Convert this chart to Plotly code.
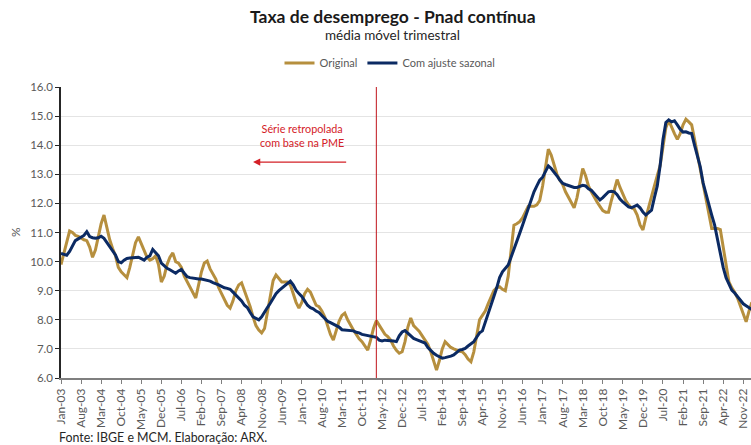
import plotly.graph_objects as go

MONTHS = ["Jan", "Feb", "Mar", "Apr", "May", "Jun", "Jul", "Aug", "Sep", "Oct", "Nov", "Dec"]
months = [f"{m}-{y % 100:02d}" for y in range(2003, 2024) for m in MONTHS][:242]

original = [
    9.9, 10.3, 10.75, 11.05, 11.0, 10.9, 10.87, 10.8, 10.75, 10.72, 10.5, 10.15,
    10.4, 10.85, 11.3, 11.6, 11.15, 10.75, 10.45, 10.2, 9.8, 9.65, 9.55, 9.45,
    9.8, 10.25, 10.65, 10.85, 10.6, 10.35, 10.15, 10.05, 10.1, 10.2, 9.9, 9.3,
    9.5, 9.9, 10.15, 10.3, 10.0, 9.95, 9.8, 9.5, 9.3, 9.15, 8.95, 8.75,
    9.2, 9.65, 9.95, 10.02, 9.75, 9.55, 9.4, 9.1, 8.9, 8.7, 8.5, 8.4,
    8.65, 9.0, 9.2, 9.27, 9.0, 8.75, 8.45, 8.1, 7.8, 7.65, 7.55, 7.7,
    8.3, 8.85, 9.35, 9.54, 9.4, 9.3, 9.3, 9.3, 9.2, 8.9, 8.6, 8.4,
    8.6, 8.9, 9.05, 8.95, 8.7, 8.5, 8.45, 8.3, 8.1, 7.8, 7.5, 7.3,
    7.6, 7.95, 8.15, 8.23, 8.0, 7.8, 7.65, 7.5, 7.35, 7.25, 7.1, 6.96,
    7.3, 7.7, 7.97, 7.8, 7.65, 7.5, 7.42, 7.3, 7.1, 6.95, 6.85, 6.9,
    7.25, 7.75, 8.06, 7.8, 7.7, 7.6, 7.45, 7.3, 7.15, 6.9, 6.6, 6.27,
    6.6, 7.0, 7.25, 7.15, 7.05, 7.0, 6.95, 6.92, 6.9, 6.8, 6.65, 6.56,
    6.9, 7.5, 8.0, 8.15, 8.3, 8.55, 8.8, 9.0, 9.1, 9.14, 9.05, 9.0,
    9.5, 10.4, 11.25, 11.3, 11.37, 11.5, 11.7, 11.9, 11.9, 11.9, 11.95, 12.1,
    12.6, 13.2, 13.86, 13.66, 13.3, 13.0, 12.8, 12.65, 12.4, 12.2, 12.0, 11.85,
    12.2, 12.7, 13.2, 12.95, 12.6, 12.4, 12.2, 12.05, 11.9, 11.75, 11.7, 11.7,
    12.1, 12.5, 12.82, 12.55, 12.3, 12.1, 11.95, 11.85, 11.8, 11.6, 11.26, 11.09,
    11.5, 11.9, 12.2, 12.6, 12.95, 13.3, 13.95, 14.6, 14.85, 14.6, 14.4, 14.2,
    14.4, 14.7, 14.89, 14.8, 14.7, 14.2, 13.7, 13.1, 12.6, 12.2, 11.65, 11.14,
    11.14, 11.14, 11.1, 10.5, 9.8, 9.3, 9.1, 8.95, 8.75, 8.5, 8.22, 7.93,
    8.3, 8.6,
]

sazonal = [
    10.28, 10.25, 10.22, 10.35, 10.55, 10.72, 10.78, 10.85, 10.9, 11.03, 10.86, 10.82,
    10.8, 10.82, 10.87, 10.8, 10.65, 10.51, 10.35, 10.23, 10.0, 9.96, 10.05, 10.11,
    10.12, 10.13, 10.14, 10.15, 10.1, 10.05, 10.15, 10.2, 10.42, 10.3, 10.2, 9.95,
    9.85, 9.77, 9.72, 9.65, 9.6, 9.68, 9.73, 9.6, 9.48, 9.45, 9.43, 9.42,
    9.4, 9.4, 9.38, 9.37, 9.33, 9.28, 9.25, 9.2, 9.15, 9.1, 9.08, 9.05,
    8.95, 8.85, 8.75, 8.65, 8.5, 8.42, 8.25, 8.1, 8.05, 8.0, 8.1, 8.28,
    8.42, 8.57, 8.75, 8.9, 9.0, 9.08, 9.14, 9.22, 9.33, 9.2, 9.02, 8.9,
    8.8, 8.65, 8.5, 8.42, 8.38, 8.3, 8.25, 8.15, 8.05, 7.95, 7.9, 7.85,
    7.82, 7.75, 7.66, 7.65, 7.64, 7.64, 7.62, 7.57, 7.55, 7.5, 7.48, 7.45,
    7.45, 7.42, 7.4, 7.3, 7.27, 7.3, 7.3, 7.28, 7.27, 7.25, 7.45, 7.58,
    7.63, 7.55, 7.45, 7.36, 7.32, 7.28, 7.25, 7.2, 7.05, 6.93, 6.85, 6.78,
    6.72, 6.68, 6.7, 6.72, 6.75, 6.79, 6.88, 6.96, 6.98, 7.02, 7.1, 7.19,
    7.25, 7.4, 7.55, 7.62, 7.9, 8.2, 8.45, 8.8, 9.1, 9.45, 9.65, 9.75,
    9.88, 10.15, 10.45, 10.74, 10.97, 11.25, 11.55, 11.8, 12.15, 12.4, 12.6, 12.8,
    12.9, 13.1, 13.29, 13.2, 13.09, 12.95, 12.8, 12.69, 12.65, 12.62, 12.6, 12.55,
    12.55, 12.58, 12.62, 12.6, 12.5, 12.45, 12.35, 12.25, 12.12, 12.2, 12.3, 12.4,
    12.42, 12.4, 12.3, 12.15, 12.05, 11.95, 11.88, 11.85, 11.9, 11.94, 11.85, 11.7,
    11.6, 11.68, 11.77, 12.2, 12.6, 13.3, 14.2, 14.78, 14.87, 14.8, 14.84, 14.7,
    14.55, 14.45, 14.46, 14.42, 14.4, 14.0, 13.6, 13.26, 12.7, 12.3, 11.95, 11.6,
    11.26, 10.75, 10.28, 9.8, 9.45, 9.2, 9.02, 8.92, 8.8, 8.68, 8.55, 8.48,
    8.4, 8.35,
]

tick_labels = months[0:239:7]
break_month = "Mar-12"
y_ticks = [6 + i for i in range(11)]

GOLD = "#B68F3E"
NAVY = "#0B2A63"
FONT = "Lato"
GRAY = "#595959"

fig = go.Figure()
fig.add_trace(go.Scatter(x=months, y=original, name="Original", mode="lines",
                         line=dict(color=GOLD, width=3)))
fig.add_trace(go.Scatter(x=months, y=sazonal, name="Com ajuste sazonal", mode="lines",
                         line=dict(color=NAVY, width=3)))

fig.add_shape(type="line", xref="x", yref="y", x0=break_month, x1=break_month,
              y0=6, y1=16, line=dict(color="#C0141B", width=1))

fig.add_annotation(text="Série retropolada<br>com base na PME", xref="x", yref="y",
                   x=84, y=14.33, showarrow=False,
                   font=dict(family=FONT, size=10.8, color="#D42027"))
fig.add_annotation(text="", xref="x", yref="y", axref="x", ayref="y",
                   x=67, y=13.42, ax=100, ay=13.42, showarrow=True,
                   arrowhead=2, arrowsize=1.2, arrowwidth=1.2, arrowcolor="#D42027")

# plot area: x 61..751, y 87..378 (291 px tall)
def py(pix):
    return (378 - pix) / 291

fig.add_annotation(text="<b>Taxa de desemprego - Pnad contínua</b>", xref="paper", yref="paper",
                   x=(393 - 61) / 690, y=py(16), xanchor="center", yanchor="middle",
                   showarrow=False, font=dict(family=FONT, size=17.5, color="#1a1a1a"))
fig.add_annotation(text="média móvel trimestral", xref="paper", yref="paper",
                   x=(392 - 61) / 690, y=py(35), xanchor="center", yanchor="middle",
                   showarrow=False, font=dict(family=FONT, size=13.5, color="#262626"))
fig.add_annotation(text="%", xref="paper", yref="paper",
                   x=(15 - 61) / 690, y=py(232), xanchor="center", yanchor="middle",
                   textangle=-90, showarrow=False, font=dict(family=FONT, size=12, color=GRAY))
fig.add_annotation(text="Fonte: IBGE e MCM. Elaboração: ARX.", xref="paper", yref="paper",
                   x=(57 - 61) / 690, y=py(437), xanchor="left", yanchor="middle",
                   showarrow=False, font=dict(family=FONT, size=12.4, color="#262626"))

fig.update_layout(
    width=751, height=445,
    margin=dict(l=61, r=0, t=87, b=67),
    paper_bgcolor="white", plot_bgcolor="white",
    font=dict(family=FONT, color=GRAY),
    legend=dict(orientation="h", x=(390 - 61) / 690, xanchor="center", y=py(63), yanchor="middle",
                font=dict(family=FONT, size=11, color=GRAY), itemwidth=30,
                bgcolor="rgba(0,0,0,0)"),
    showlegend=True,
)

fig.update_xaxes(type="category", range=[0, 240.7], tickmode="array",
                 tickvals=tick_labels, ticktext=tick_labels, tickangle=-90,
                 ticks="outside", ticklen=4, tickcolor="#7f7f7f",
                 showline=True, linecolor="#7f7f7f", linewidth=1.5,
                 showgrid=False, automargin=False,
                 tickfont=dict(family=FONT, size=12, color=GRAY))
fig.update_yaxes(range=[6, 16], tickmode="array", tickvals=y_ticks,
                 ticktext=[f"{v:.1f}" for v in y_ticks],
                 ticks="outside", ticklen=4, tickcolor="#262626",
                 showline=True, linecolor="#262626", linewidth=1.5,
                 showgrid=True, gridcolor="#E4E4E4", gridwidth=1,
                 zeroline=False, automargin=False,
                 tickfont=dict(family=FONT, size=11.5, color=GRAY))

fig.write_html("out.html", config={"displayModeBar": False},
               post_script="document.body.style.margin='0';")
